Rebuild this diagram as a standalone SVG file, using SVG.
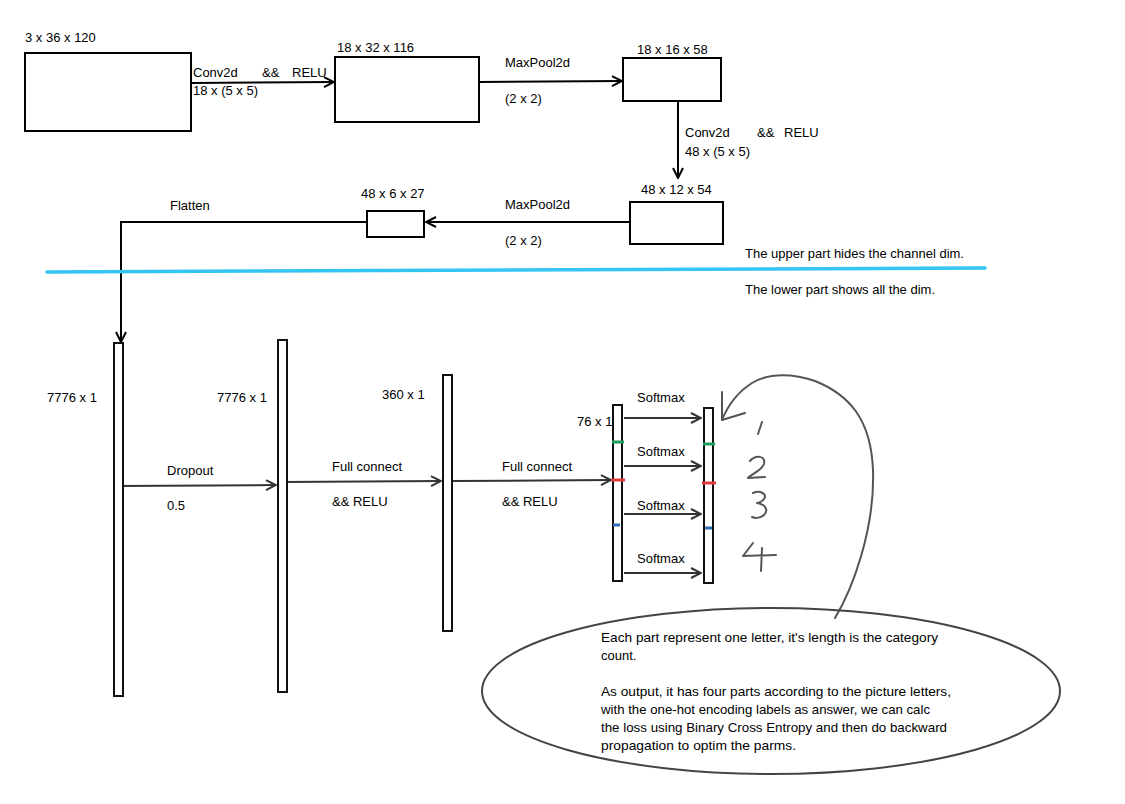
<svg xmlns="http://www.w3.org/2000/svg" width="1125" height="804" viewBox="0 0 1125 804">
<style>
text{font-family:"Liberation Sans",Arial,sans-serif;font-size:13px;fill:#000}
.box{fill:#fff;stroke:#000;stroke-width:2}
.bar{fill:#fff;stroke:#111;stroke-width:2}
.ln{fill:none;stroke:#000;stroke-width:2}
.ln2{fill:none;stroke:#333;stroke-width:2}
.hand{fill:none;stroke:#555;stroke-width:2;stroke-linecap:round;stroke-linejoin:round}
</style>
<defs>
<marker id="arr" viewBox="0 0 12 12" refX="11" refY="6" markerWidth="12" markerHeight="12" markerUnits="userSpaceOnUse" orient="auto">
<path d="M1,1 L11,6 L1,11" fill="none" stroke="#000" stroke-width="2"/>
</marker>
<marker id="arr2" viewBox="0 0 12 12" refX="11" refY="6" markerWidth="12" markerHeight="12" markerUnits="userSpaceOnUse" orient="auto">
<path d="M1,1 L11,6 L1,11" fill="none" stroke="#333" stroke-width="2"/>
</marker>
</defs>
<rect width="1125" height="804" fill="#fff"/>

<g id="connectors">
<line class="ln" x1="191" y1="83" x2="334" y2="82" marker-end="url(#arr)"/>
<line class="ln" x1="480" y1="82" x2="622" y2="81" marker-end="url(#arr)"/>
<line class="ln" x1="678" y1="101" x2="678" y2="178" marker-end="url(#arr)"/>
<line class="ln" x1="629" y1="222" x2="426" y2="222" marker-end="url(#arr)"/>
<polyline class="ln" points="367,222 121,222 121,342" marker-end="url(#arr)"/>
<line class="ln2" x1="118" y1="486" x2="276" y2="485" marker-end="url(#arr2)"/>
<line class="ln2" x1="283" y1="482" x2="441" y2="481" marker-end="url(#arr2)"/>
<line class="ln2" x1="452" y1="481" x2="611" y2="480" marker-end="url(#arr2)"/>
<line class="ln2" x1="624" y1="418" x2="701" y2="418" marker-end="url(#arr2)"/>
<line class="ln2" x1="624" y1="466" x2="701" y2="466" marker-end="url(#arr2)"/>
<line class="ln2" x1="624" y1="514" x2="701" y2="514" marker-end="url(#arr2)"/>
<line class="ln2" x1="624" y1="573" x2="701" y2="573" marker-end="url(#arr2)"/>
</g>

<g id="labels">
<text x="193" y="77">Conv2d</text><text x="262" y="77">&amp;&amp;</text><text x="292" y="77">RELU</text>
<text x="193" y="95">18 x (5 x 5)</text>
<text x="505" y="67">MaxPool2d</text>
<text x="505" y="103">(2 x 2)</text>
<text x="685" y="137">Conv2d</text><text x="757" y="137">&amp;&amp;</text><text x="784" y="137">RELU</text>
<text x="685" y="156">48 x (5 x 5)</text>
<text x="505" y="209">MaxPool2d</text>
<text x="505" y="245">(2 x 2)</text>
<text x="170" y="210">Flatten</text>
<text x="745" y="258">The upper part hides the channel dim.</text>
<text x="745" y="294">The lower part shows all the dim.</text>
<text x="167" y="475">Dropout</text>
<text x="167" y="510">0.5</text>
<text x="332" y="471">Full connect</text>
<text x="332" y="506">&amp;&amp; RELU</text>
<text x="502" y="471">Full connect</text>
<text x="502" y="506">&amp;&amp; RELU</text>
<text x="637" y="402">Softmax</text>
<text x="637" y="456">Softmax</text>
<text x="637" y="510">Softmax</text>
<text x="637" y="563">Softmax</text>
</g>

<g id="divider">
<line x1="47" y1="272" x2="985" y2="268" stroke="#33c4f2" stroke-width="3.5" stroke-linecap="round"/>
</g>

<g id="n-input">
<rect class="box" x="25" y="53" width="166" height="78"/>
<text x="25" y="42">3 x 36 x 120</text>
</g>
<g id="n-conv1">
<rect class="box" x="335" y="57" width="144" height="65"/>
<text x="337" y="52">18 x 32 x 116</text>
</g>
<g id="n-pool1">
<rect class="box" x="623" y="58" width="98" height="43"/>
<text x="637" y="54">18 x 16 x 58</text>
</g>
<g id="n-conv2">
<rect class="box" x="630" y="202" width="93" height="42"/>
<text x="641" y="194">48 x 12 x 54</text>
</g>
<g id="n-pool2">
<rect class="box" x="367" y="211" width="57" height="26"/>
<text x="361" y="198">48 x 6 x 27</text>
</g>

<g id="n-flat">
<rect class="bar" x="114" y="343" width="9" height="353"/>
<text x="47" y="402">7776 x 1</text>
</g>
<g id="n-drop">
<rect class="bar" x="278" y="340" width="9" height="352"/>
<text x="217" y="402">7776 x 1</text>
</g>
<g id="n-fc1">
<rect class="bar" x="443" y="375" width="9" height="256"/>
<text x="382" y="399">360 x 1</text>
</g>
<g id="n-fc2">
<rect class="bar" x="613" y="405" width="9" height="176"/>
<text x="577" y="426">76 x 1</text>
<line x1="612" y1="442" x2="624" y2="442" stroke="#1e9e5e" stroke-width="3"/>
<line x1="611" y1="480" x2="625" y2="480" stroke="#e03a3a" stroke-width="3"/>
<line x1="613" y1="525" x2="620" y2="525" stroke="#2a6cb5" stroke-width="3"/>
</g>
<g id="n-out">
<rect class="bar" x="704" y="408" width="9" height="175"/>
<line x1="703" y1="444" x2="715" y2="444" stroke="#1e9e5e" stroke-width="3"/>
<line x1="702" y1="483" x2="716" y2="483" stroke="#e03a3a" stroke-width="3"/>
<line x1="705" y1="528" x2="712" y2="528" stroke="#2a6cb5" stroke-width="3"/>
</g>

<g id="handwriting">
<path class="hand" d="M762,422 L758,434"/>
<path class="hand" d="M750,461 C755,455 766,455 764,464 C762,470 752,474 748,478 L765,477"/>
<path class="hand" d="M753,493 C760,490 768,494 764,499 C762,502 758,503 757,503 C765,504 769,510 764,515 C760,519 754,518 752,517"/>
<path class="hand" d="M753,543 L743,556 L776,555 M762,548 L761,571"/>
<path class="hand" d="M835,618 C852,590 875,530 873,470 C871,420 850,395 815,381 C795,374 770,372 752,383 C738,392 728,405 722,420"/>
<path class="hand" d="M722,392 L722,420 L745,413"/>
</g>

<g id="n-note">
<ellipse cx="771" cy="691" rx="289" ry="83" fill="none" stroke="#444" stroke-width="2"/>
<text x="601" y="642" textLength="337" lengthAdjust="spacingAndGlyphs">Each part represent one letter, it's length is the category</text>
<text x="601" y="660">count.</text>
<text x="601" y="696" textLength="350" lengthAdjust="spacingAndGlyphs">As output, it has four parts according to the picture letters,</text>
<text x="601" y="714" textLength="329" lengthAdjust="spacingAndGlyphs">with the one-hot encoding labels as answer, we can calc</text>
<text x="601" y="732" textLength="346" lengthAdjust="spacingAndGlyphs">the loss using Binary Cross Entropy and then do backward</text>
<text x="601" y="750" textLength="195" lengthAdjust="spacingAndGlyphs">propagation to optim the parms.</text>
</g>
</svg>
